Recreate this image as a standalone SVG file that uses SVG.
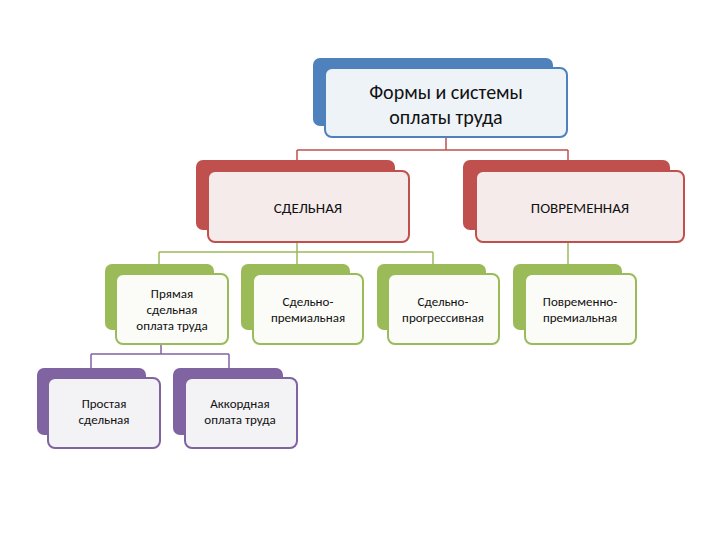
<svg xmlns="http://www.w3.org/2000/svg" width="720" height="540" viewBox="0 0 720 540">
<style>
text{font-family:Calibri,"Liberation Sans","Open Sans",sans-serif;text-anchor:middle;fill:#111}
.b{fill:#4f81bd}.bf{fill:#eef3f8;stroke:#4f81bd;stroke-width:2}
.r{fill:#c0504d}.rf{fill:#f6ebeb;stroke:#c0504d;stroke-width:2}
.g{fill:#9bbb59}.gf{fill:#fbfcf8;stroke:#9bbb59;stroke-width:2}
.p{fill:#8064a2}.pf{fill:#f3f2f5;stroke:#8064a2;stroke-width:2}
.t1{font-size:20px}.t2{font-size:15px}.t3{font-size:13px}
.c{fill:none;stroke-width:1.5}
</style>
<rect width="720" height="540" fill="#fff"/>
<g id="connectors">
<path class="c" stroke="#c0504d" d="M446 137V150M297 150H568M297 150V171M568 150V171"/>
<path class="c" stroke="#9bbb59" d="M297 242V252M159 252H433M159 252V274M297 252V274M433 252V274M568 242V274"/>
<path class="c" stroke="#8064a2" d="M161 344V354M91 354H229M91 354V378M229 354V378"/>
</g>
<g id="root"><rect class="b" x="313" y="58" width="240" height="68" rx="7"/><rect class="bf" x="325" y="68" width="242" height="69" rx="7"/>
<text class="t1" x="446" y="99">Формы и системы</text><text class="t1" x="446" y="124">оплаты труда</text></g>
<g id="sdel"><rect class="r" x="196" y="160" width="199" height="70" rx="7"/><rect class="rf" x="208" y="171" width="201" height="71" rx="7"/>
<text class="t2" x="308" y="213">СДЕЛЬНАЯ</text></g>
<g id="povr"><rect class="r" x="463" y="160" width="207" height="70" rx="7"/><rect class="rf" x="476" y="171" width="208" height="71" rx="7"/>
<text class="t2" x="580" y="213">ПОВРЕМЕННАЯ</text></g>
<g id="pryam"><rect class="g" x="105" y="264" width="109" height="66" rx="7"/><rect class="gf" x="116" y="274" width="112" height="70" rx="7"/>
<text class="t3" x="172" y="298">Прямая</text><text class="t3" x="172" y="314">сдельная</text><text class="t3" x="172" y="330">оплата труда</text></g>
<g id="sdprem"><rect class="g" x="241" y="264" width="109" height="66" rx="7"/><rect class="gf" x="253" y="274" width="110" height="70" rx="7"/>
<text class="t3" x="308" y="306">Сдельно-</text><text class="t3" x="308" y="322">премиальная</text></g>
<g id="sdprog"><rect class="g" x="377" y="264" width="109" height="66" rx="7"/><rect class="gf" x="388" y="274" width="111" height="70" rx="7"/>
<text class="t3" x="443" y="306">Сдельно-</text><text class="t3" x="443" y="322">прогрессивная</text></g>
<g id="povrprem"><rect class="g" x="513" y="264" width="109" height="66" rx="7"/><rect class="gf" x="525" y="274" width="111" height="70" rx="7"/>
<text class="t3" x="580" y="306">Повременно-</text><text class="t3" x="580" y="322">премиальная</text></g>
<g id="prostaya"><rect class="p" x="37" y="368" width="109" height="67" rx="7"/><rect class="pf" x="48" y="378" width="112" height="70" rx="7"/>
<text class="t3" x="104" y="408">Простая</text><text class="t3" x="104" y="424">сдельная</text></g>
<g id="akkord"><rect class="p" x="173" y="368" width="110" height="67" rx="7"/><rect class="pf" x="185" y="378" width="112" height="70" rx="7"/>
<text class="t3" x="240" y="408">Аккордная</text><text class="t3" x="240" y="424">оплата труда</text></g>
</svg>
